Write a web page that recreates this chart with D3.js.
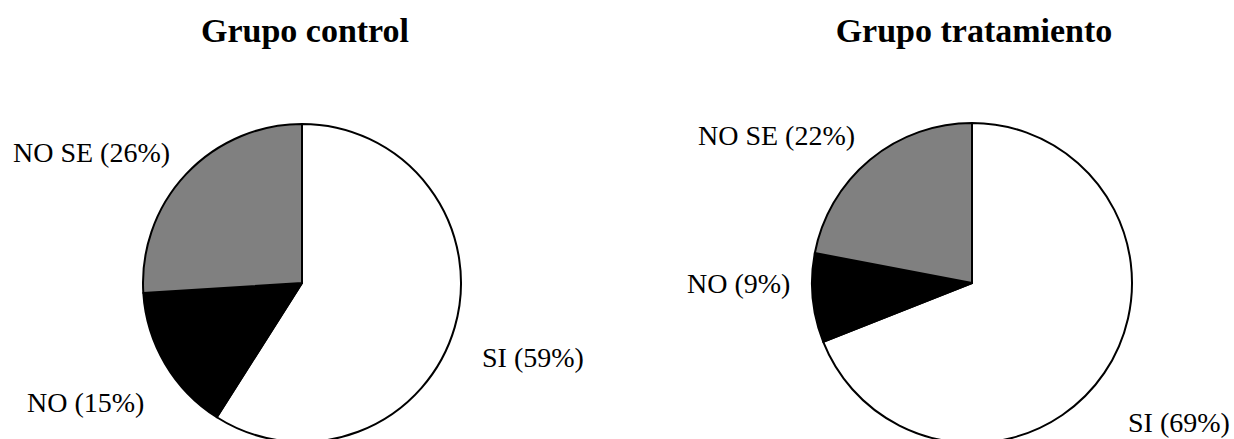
<!DOCTYPE html>
<html>
<head>
<meta charset="utf-8">
<script src="https://cdn.jsdelivr.net/npm/d3@7"></script>
<style>
  html, body { margin: 0; padding: 0; background: #fff; }
  svg { display: block; }
  svg text { font-family: "Liberation Serif", "Times New Roman", Times, serif; }
</style>
</head>
<body>
<svg id="chart" width="1234" height="439"></svg>
<script>
// Respuestas por grupo (porcentajes)
const categories = ["SI", "NO", "NO SE"];
const controlValues = [59, 15, 26];
const treatmentValues = [69, 9, 22];
const groupTitles = ["Grupo control", "Grupo tratamiento"];

const width = 1234, height = 439;
const svg = d3.select("#chart");
svg.append("rect").attr("width", width).attr("height", height).attr("fill", "#fff");

const fill = d3.scaleOrdinal().domain(categories).range(["#ffffff", "#000000", "#808080"]);

const pie = d3.pie().sort(null).value(d => d.value).startAngle(0).endAngle(2 * Math.PI);

// Layout of each pie: centre, radius, title position and label anchors (relative to centre)
const layouts = [
  {
    cx: 302, cy: 283, r: 159, titleX: 305,
    labelOffsets: { "SI": [180, 84], "NO": [-275, 129], "NO SE": [-289, -121] }
  },
  {
    cx: 972, cy: 283, r: 160, titleX: 974,
    labelOffsets: { "SI": [156, 149], "NO": [-285, 10], "NO SE": [-274, -138] }
  }
];

const groups = [controlValues, treatmentValues];

groups.forEach((values, gi) => {
  const L = layouts[gi];
  const data = categories.map((c, i) => ({ category: c, value: values[i] }));
  const arcs = pie(data);
  const arc = d3.arc().innerRadius(0).outerRadius(L.r);

  // Title
  svg.append("text")
    .attr("x", L.titleX)
    .attr("y", 42)
    .attr("text-anchor", "middle")
    .style("font-weight", "bold")
    .style("font-size", "34px")
    .attr("fill", "#000")
    .text(groupTitles[gi]);

  const g = svg.append("g").attr("transform", `translate(${L.cx},${L.cy})`);

  g.selectAll("path.slice")
    .data(arcs)
    .join("path")
    .attr("class", "slice")
    .attr("d", arc)
    .attr("fill", d => fill(d.data.category))
    .attr("stroke", "#000")
    .attr("stroke-width", 2)
    .attr("stroke-linejoin", "round");

  g.selectAll("text.label")
    .data(arcs)
    .join("text")
    .attr("class", "label")
    .attr("x", d => L.labelOffsets[d.data.category][0])
    .attr("y", d => L.labelOffsets[d.data.category][1])
    .style("font-size", "28px")
    .attr("fill", "#000")
    .text(d => `${d.data.category} (${d.data.value}%)`);
});
</script>
</body>
</html>
